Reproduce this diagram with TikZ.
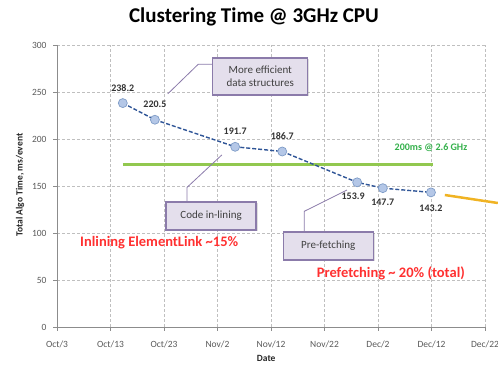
\documentclass[tikz,border=0pt]{standalone}
\usepackage{fontspec}
\setmainfont{Carlito}
\usetikzlibrary{positioning,shadows}
\definecolor{seriesblue}{HTML}{2F5597}
\definecolor{ptfill}{HTML}{B4C7E7}
\definecolor{ptedge}{HTML}{7F9CC7}
\definecolor{calloutfill}{HTML}{E4DFEC}
\definecolor{calloutedge}{HTML}{8B7BAA}
\definecolor{notered}{HTML}{FF3030}
\definecolor{limitgreen}{HTML}{92C84F}
\definecolor{limittext}{HTML}{33B04A}
\definecolor{trendorange}{HTML}{F0B323}
\tikzset{
    gridline/.style={densely dashed, black!25, line width=0.6pt},
    axisline/.style={black!45, line width=0.8pt},
    ticklabel/.style={font=\fontsize{9.5}{11}\selectfont, text=black!65},
    axislabel/.style={font=\bfseries\fontsize{9.5}{11}\selectfont, text=black!85},
    datapt/.style={circle, draw=ptedge, fill=ptfill, line width=0.7pt,
        minimum size=9pt, inner sep=0pt},
    datalabel/.style={font=\bfseries\fontsize{10}{11}\selectfont, text=black!80, inner sep=0pt},
    calloutbox/.style={draw=calloutedge, fill=calloutfill, line width=1.3pt,
        minimum width=90pt, minimum height=28pt, align=center,
        font=\fontsize{11}{13}\selectfont, text=black!75,
        drop shadow={shadow xshift=1.5pt, shadow yshift=-1.5pt, opacity=0.25}},
    calloutline/.style={calloutedge, line width=0.8pt},
    notetext/.style={font=\bfseries\fontsize{14.5}{16}\selectfont, text=notered}
}
\begin{document}
\begin{tikzpicture}[x=1pt, y=1pt]
\useasboundingbox (0,0) rectangle (498,366);
\node[font=\bfseries\fontsize{21}{24}\selectfont] (title) at (254,349) {Clustering Time @ 3GHz CPU};

\begin{scope}[shift={(57,39)}, x=5.35pt, y=0.94pt]
% grid
\foreach \d in {10,20,...,80}
    \draw[gridline] (\d,0) -- (\d,300);
\foreach \v in {50,100,...,300}
    \draw[gridline] (0,\v) -- (80,\v);
% axes
\draw[axisline] (0,300) -- (0,0) -- (80,0);
\foreach \v in {0,50,...,300} {
    \draw[axisline] (0,\v) -- ++(-4pt,0);
    \node[ticklabel, anchor=east] at (-1.3,\v) {\v};
}
\foreach \d/\lab in {0/{Oct/3},10/{Oct/13},20/{Oct/23},30/{Nov/2},40/{Nov/12},
                     50/{Nov/22},60/{Dec/2},70/{Dec/12},80/{Dec/22}} {
    \draw[axisline] (\d,0) -- ++(0,-4pt);
    \node[ticklabel] at (\d,-19) {\lab};
}
\node[axislabel, rotate=90] (ylab) at (-6.9,151) {Total Algo Time, ms/event};
\node[axislabel] (xlab) at (39.1,-33) {Date};

% 2.6 GHz reference and trend
\draw[limitgreen, line width=3pt] (12.3,173) -- (70.3,173);
\node[font=\bfseries\fontsize{10}{11}\selectfont, text=limittext] (limitlab) at (69.9,190.4) {200ms @ 2.6 GHz};
\draw[trendorange, line width=2.5pt] (72.5,140.4) -- (82.4,131.9);

% measurements
\coordinate (p1) at (12.3,238.2);
\coordinate (p2) at (18.3,220.5);
\coordinate (p3) at (33.3,191.7);
\coordinate (p4) at (42.1,186.7);
\coordinate (p5) at (56.1,153.9);
\coordinate (p6) at (60.9,147.7);
\coordinate (p7) at (69.9,143.2);
\draw[seriesblue, line width=1.4pt, dash pattern=on 4pt off 2pt]
    (p1) -- (p2) -- (p3) -- (p4) -- (p5) -- (p6) -- (p7);
\foreach \n in {1,...,7}
    \node[datapt] (m\n) at (p\n) {};
\node[datalabel, above=11pt of p1] (l1) {238.2};
\node[datalabel, above=12pt of p2] (l2) {220.5};
\node[datalabel, above=12pt of p3] (l3) {191.7};
\node[datalabel, above=12pt of p4] (l4) {186.7};
\node[datalabel, below=10pt of p5, xshift=-4pt] (l5) {153.9};
\node[datalabel, below=11pt of p6] (l6) {147.7};
\node[datalabel, below=12pt of p7] (l7) {143.2};

% callouts
\node[calloutbox, minimum width=95pt, minimum height=37pt] (datastruct) at (38.0,266.5) {More efficient\\data structures};
\node[calloutbox] (inlining) at (28.8,118.1) {Code in-lining};
\node[calloutbox] (prefetch) at (50.7,86.2) {Pre-fetching};
\coordinate (dsend) at (20.7,248);
\coordinate (ilend) at (30.8,183);
\coordinate (pfend) at (54.2,145.7);
\draw[calloutline] ([yshift=-7pt]datastruct.north west) -- ++(-14pt,0) -- (dsend);
\draw[calloutline] ([xshift=-24pt]inlining.north) -- ++(0,14pt) -- (ilend);
\draw[calloutline] ([xshift=-24pt]prefetch.north) -- ++(0,20pt) -- (pfend);

\node[notetext] (inlinenote) at (19.1,89.4) {Inlining ElementLink \textasciitilde15\%};
\node[notetext] (prefetchnote) at (62.4,57.4) {Prefetching \textasciitilde{} 20\% (total)};
\end{scope}
\end{tikzpicture}
\end{document}
